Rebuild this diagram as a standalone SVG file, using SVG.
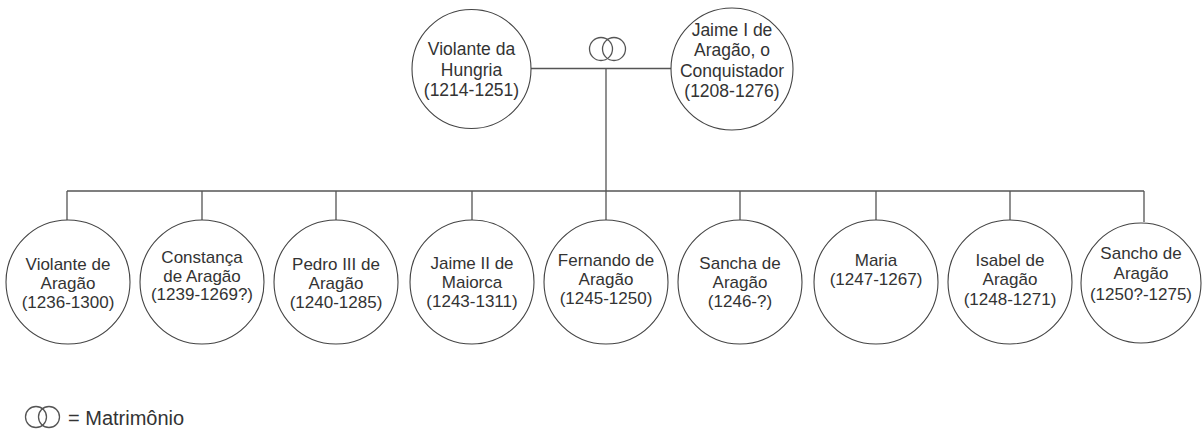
<svg xmlns="http://www.w3.org/2000/svg" width="1203" height="430" viewBox="0 0 1203 430">
<style>
.n circle{fill:#fff;stroke:#444;stroke-width:1.1}
.n text{font-family:"Liberation Sans",Arial,sans-serif;font-size:17px;fill:#333;text-anchor:middle}
.p text{font-size:17.5px}
.c{stroke:#555;stroke-width:1.3;fill:none}
.sym{fill:none;stroke:#555;stroke-width:1.3}
.lg{font-family:"Liberation Sans",Arial,sans-serif;font-size:20px;fill:#333}
</style>
<rect width="1203" height="430" fill="#fff"/>
<g id="connectors" class="c">
<path d="M530 68.5H673M606 68.5V191M67 191H1144"/>
<path d="M67 191V220M202 191V220M336 191V220M472 191V220M606 191V220M740 191V220M876 191V220M1010 191V220M1144 191V222"/>
</g>
<g id="marriage" class="sym">
<circle cx="601" cy="49" r="11.5"/>
<circle cx="614" cy="49" r="11.5"/>
</g>
<g id="p1" class="n p"><circle cx="471.5" cy="69" r="59.5"/>
<text x="471.5" y="55">Violante  da</text><text x="471.5" y="75.5">Hungria</text><text x="471.5" y="96">(1214-1251)</text></g>
<g id="p2" class="n p"><circle cx="732" cy="69" r="61"/>
<text x="732" y="36">Jaime I de</text><text x="732" y="56">Aragão,  o</text><text x="732" y="76.5">Conquistador</text><text x="732" y="97">(1208-1276)</text></g>
<g id="c1" class="n"><circle cx="68" cy="282" r="62"/>
<text x="68" y="270">Violante  de</text><text x="68" y="289">Aragão</text><text x="68" y="308">(1236-1300)</text></g>
<g id="c2" class="n"><circle cx="202" cy="282" r="62"/>
<text x="202" y="263">Constança</text><text x="202" y="282">de Aragão</text><text x="202" y="300">(1239-1269?)</text></g>
<g id="c3" class="n"><circle cx="336" cy="282" r="62"/>
<text x="336" y="270">Pedro  III de</text><text x="336" y="289">Aragão</text><text x="336" y="308">(1240-1285)</text></g>
<g id="c4" class="n"><circle cx="472" cy="282" r="62"/>
<text x="472" y="269">Jaime II de</text><text x="472" y="288">Maiorca</text><text x="472" y="307">(1243-1311)</text></g>
<g id="c5" class="n"><circle cx="606" cy="282" r="62"/>
<text x="606" y="266">Fernando  de</text><text x="606" y="285">Aragão</text><text x="606" y="304">(1245-1250)</text></g>
<g id="c6" class="n"><circle cx="740" cy="282" r="62"/>
<text x="740" y="269">Sancha  de</text><text x="740" y="288">Aragão</text><text x="740" y="307">(1246-?)</text></g>
<g id="c7" class="n"><circle cx="876" cy="282" r="62"/>
<text x="876" y="266">Maria</text><text x="876" y="285">(1247-1267)</text></g>
<g id="c8" class="n"><circle cx="1010" cy="282" r="62"/>
<text x="1010" y="266">Isabel  de</text><text x="1010" y="285">Aragão</text><text x="1010" y="305">(1248-1271)</text></g>
<g id="c9" class="n"><circle cx="1141" cy="283" r="60"/>
<text x="1141" y="259">Sancho  de</text><text x="1141" y="279">Aragão</text><text x="1141" y="300">(1250?-1275)</text></g>
<g id="legend">
<circle class="sym" cx="36" cy="417" r="10.5"/>
<circle class="sym" cx="49" cy="417" r="10.5"/>
<text class="lg" x="68" y="425">= Matrimônio</text>
</g>
</svg>
